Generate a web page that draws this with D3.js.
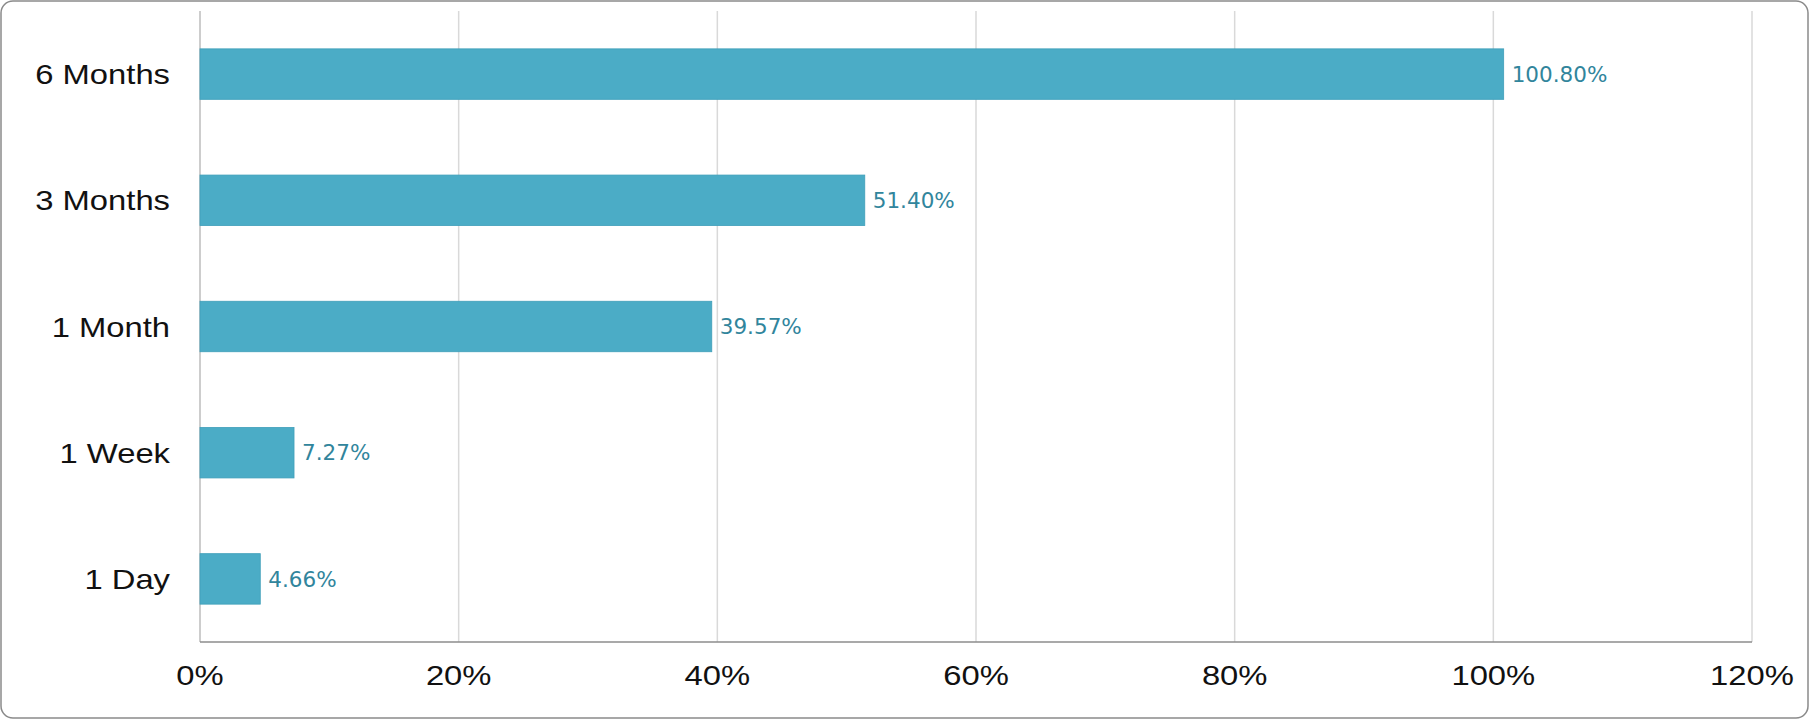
<!DOCTYPE html>
<html>
<head>
<meta charset="utf-8">
<script src="https://cdn.jsdelivr.net/npm/d3@7"></script>
<style>
  html, body { margin: 0; padding: 0; background: #fff; }
  svg { display: block; }
</style>
</head>
<body>
<div id="chart"></div>
<script>
// periods, top to bottom, and their returns in percent
const periods = ["6 Months", "3 Months", "1 Month", "1 Week", "1 Day"];
const returns = [100.80, 51.40, 39.57, 7.27, 4.66];
const tickValues = [0, 20, 40, 60, 80, 100, 120];

const W = 1810, H = 720;
const margin = { top: 11, right: 58, bottom: 78, left: 200 };

const svg = d3.select("#chart").append("svg")
  .attr("width", W).attr("height", H);

// rounded outer frame
svg.append("rect")
  .attr("x", 1).attr("y", 1)
  .attr("width", W - 3).attr("height", H - 3)
  .attr("rx", 12)
  .attr("fill", "#fff")
  .attr("stroke", "#8a8a8a")
  .attr("stroke-width", 1.5);

const x = d3.scaleLinear().domain([0, 120]).range([margin.left, W - margin.right]);
const y = d3.scaleBand().domain(periods)
  .range([margin.top, H - margin.bottom])
  .paddingInner(0.6).paddingOuter(0.3);

// vertical gridlines
svg.append("g").selectAll("line").data(tickValues.filter(d => d > 0)).join("line")
  .attr("x1", d => x(d)).attr("x2", d => x(d))
  .attr("y1", margin.top).attr("y2", H - margin.bottom)
  .attr("stroke", "#d9d9d9")
  .attr("stroke-width", 1.5);

// left axis line
svg.append("line")
  .attr("x1", x(0)).attr("x2", x(0))
  .attr("y1", margin.top).attr("y2", H - margin.bottom)
  .attr("stroke", "#bdbdbd").attr("stroke-width", 1.5);

// bars
svg.append("g").selectAll("rect").data(periods).join("rect")
  .attr("x", x(0))
  .attr("y", d => y(d))
  .attr("width", (d, i) => x(returns[i]) - x(0))
  .attr("height", y.bandwidth())
  .attr("fill", "#4bacc6")
  .attr("stroke", "#3f9fba")
  .attr("stroke-width", 0.8);

// bottom axis line
svg.append("line")
  .attr("x1", x(0)).attr("x2", x(120))
  .attr("y1", H - margin.bottom).attr("y2", H - margin.bottom)
  .attr("stroke", "#8c8c8c").attr("stroke-width", 1.5);

// value labels
svg.append("g").selectAll("text").data(periods).join("text")
  .attr("x", (d, i) => x(returns[i]) + 8)
  .attr("y", d => y(d) + y.bandwidth() / 2)
  .attr("dy", "0.36em")
  .attr("font-family", "DejaVu Sans, Verdana, sans-serif")
  .attr("font-size", 21.5)
  .attr("fill", "#31859c")
  .text((d, i) => returns[i].toFixed(2) + "%");

// category labels (the original text is a bit stretched horizontally)
svg.append("g").selectAll("text").data(periods).join("text")
  .attr("transform", d => `translate(170,${y(d) + y.bandwidth() / 2}) scale(1.17,1)`)
  .attr("dy", "0.36em")
  .attr("text-anchor", "end")
  .attr("font-family", "Liberation Sans, Arial, sans-serif")
  .attr("font-size", 28)
  .attr("fill", "#111")
  .text(d => d);

// x tick labels
svg.append("g").selectAll("text").data(tickValues).join("text")
  .attr("transform", d => `translate(${x(d)},${675}) scale(1.17,1)`)
  .attr("dy", "0.36em")
  .attr("text-anchor", "middle")
  .attr("font-family", "Liberation Sans, Arial, sans-serif")
  .attr("font-size", 28)
  .attr("fill", "#111")
  .text(d => d + "%");
</script>
</body>
</html>
